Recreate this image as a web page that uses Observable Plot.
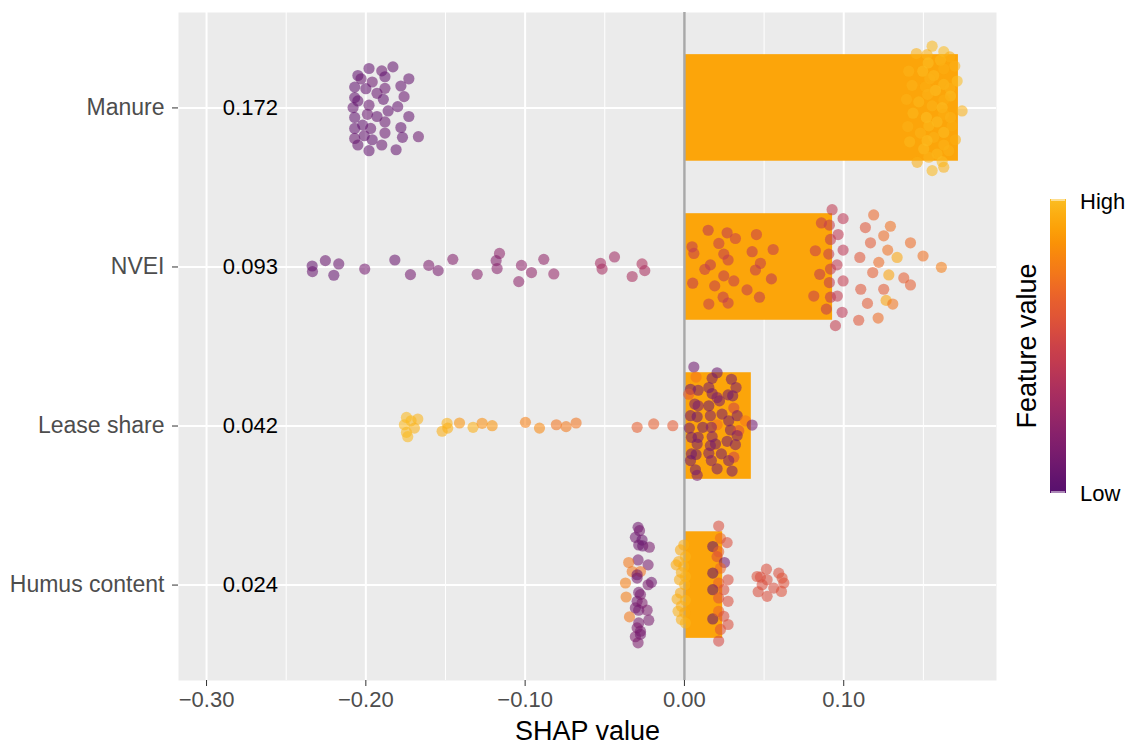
<!DOCTYPE html>
<html><head><meta charset="utf-8">
<script src="https://cdn.jsdelivr.net/npm/d3@7"></script>
<script src="https://cdn.jsdelivr.net/npm/@observablehq/plot@0.6"></script>
<style>
body{margin:0;background:#fff;font-family:"Liberation Sans",Arial,sans-serif;}
#wrap{position:relative;width:1127px;height:746px;}
</style></head><body><div id="wrap"></div>
<script>
// ---- data ----
const features = ["Manure", "NVEI", "Lease share", "Humus content"];
const meanAbsShap = [0.172, 0.093, 0.042, 0.024];
const xTicks = [-0.3, -0.2, -0.1, 0, 0.1];
const xMinorTicks = [-0.25, -0.15, -0.05, 0.05, 0.15];

const manureShap = [-0.198,-0.190,-0.183,-0.205,-0.203,-0.188,-0.196,-0.173,-0.207,-0.200,
 -0.188,-0.178,-0.207,-0.193,-0.189,-0.176,-0.205,-0.208,-0.198,-0.186,
 -0.180,-0.207,-0.199,-0.193,-0.188,-0.173,-0.207,-0.202,-0.197,-0.188,
 -0.178,-0.207,-0.201,-0.196,-0.177,-0.167,-0.205,-0.198,-0.190,-0.181,
 0.1555,0.1456,0.1628,0.1523,0.1666,0.1607,0.1530,0.1697,0.1408,0.1496,
 0.1628,0.1565,0.1540,0.1712,0.1429,0.1513,0.1628,0.1666,0.1576,0.1527,
 0.1670,0.1394,0.1471,0.1628,0.1555,0.1618,0.1743,0.1435,0.1519,0.1628,
 0.1670,0.1586,0.1402,0.1534,0.1680,0.1481,0.1628,0.1565,0.1414,0.1523,
 0.1701,0.1628,0.1502,0.1659,0.1586,0.1534,0.1461,0.1618,0.1628,0.1555];
const manureJitter = [0.248,0.233,0.258,0.204,0.183,0.196,0.163,0.183,0.131,0.121,
 0.123,0.138,0.065,0.092,0.054,0.071,0.044,0.002,0.017,-0.019,
 0.008,-0.060,-0.040,-0.054,-0.088,-0.054,-0.129,-0.108,-0.129,-0.158,
 -0.123,-0.192,-0.175,-0.200,-0.185,-0.181,-0.233,-0.269,-0.233,-0.263,
 0.388,0.342,0.354,0.335,0.321,0.300,0.283,0.263,0.231,0.231,
 0.246,0.204,0.183,0.169,0.142,0.133,0.148,0.123,0.110,0.085,
 0.075,0.054,0.038,0.050,0.013,0.002,-0.019,-0.033,-0.060,-0.040,
 -0.060,-0.088,-0.117,-0.113,-0.113,-0.158,-0.154,-0.185,-0.213,-0.206,
 -0.200,-0.233,-0.258,-0.269,-0.290,-0.310,-0.342,-0.338,-0.373,-0.394];
const manureValue = [0.05,0.08,0.06,0.04,0.07,0.05,0.09,0.06,0.04,0.05,
 0.08,0.06,0.05,0.07,0.04,0.08,0.05,0.06,0.07,0.05,
 0.06,0.04,0.08,0.05,0.07,0.06,0.05,0.04,0.06,0.08,
 0.05,0.07,0.06,0.04,0.05,0.09,0.06,0.05,0.07,0.06,
 0.98,0.96,0.99,0.97,0.95,0.98,1.00,0.96,0.97,0.99,
 0.95,0.98,0.96,0.99,0.97,0.95,0.98,0.96,1.00,0.97,
 0.99,0.96,0.98,0.95,0.97,0.99,0.96,0.98,1.00,0.95,
 0.97,0.99,0.96,0.98,0.95,0.97,0.99,0.96,0.98,1.00,
 0.95,0.97,0.99,0.96,0.98,0.97,0.95,0.99,0.96,0.98];

const nveiShap = [-0.2337,-0.2335,-0.2254,-0.2201,-0.2170,-0.2007,-0.1818,-0.1720,-0.1605,-0.1546,
 -0.1454,-0.1301,-0.1161,-0.1182,-0.1176,-0.1023,-0.1040,-0.0960,-0.0883,-0.0820,
 -0.0527,-0.0517,-0.0439,-0.0328,-0.0266,-0.0249,
 0.0048,0.0059,0.0149,0.0216,0.0268,0.0320,0.0247,0.0274,0.0163,0.0128,
 0.0052,0.0190,0.0247,0.0310,0.0452,0.0425,0.0477,0.0446,0.0557,0.0546,
 0.0393,0.0471,0.0243,0.0274,0.0153,
 0.0927,0.0996,0.0860,0.0910,0.0965,0.0917,0.0822,0.0996,0.0906,0.0958,
 0.0917,0.0849,0.0996,0.0910,0.0812,0.0917,0.0960,0.0891,0.0990,0.0948,
 0.1188,0.1136,0.1293,0.1251,0.1168,0.1419,0.1101,0.1276,0.1335,0.1220,
 0.1498,0.1613,0.1182,0.1283,0.1377,0.1419,0.1107,0.1251,0.1149,0.1266,
 0.1308,0.1094,0.1216];
const nveiJitter = [0.006,-0.029,0.040,-0.052,0.019,-0.013,0.044,-0.048,0.010,-0.023,
 0.048,-0.046,0.085,0.040,-0.010,0.010,-0.092,-0.035,0.048,-0.044,
 0.023,-0.013,0.063,-0.060,0.019,-0.023,
 0.127,0.085,0.231,0.148,0.215,0.179,0.081,0.044,0.013,-0.015,
 -0.102,-0.119,-0.056,-0.088,0.204,0.096,0.023,-0.019,0.110,-0.075,
 -0.144,-0.190,-0.190,-0.227,-0.233,
 0.360,0.304,0.277,0.263,0.204,0.173,0.102,0.106,0.081,0.013,
 -0.013,-0.046,-0.088,-0.098,-0.183,-0.190,-0.183,-0.265,-0.285,-0.369,
 0.327,0.248,0.256,0.196,0.152,0.152,0.060,0.106,0.060,0.029,
 0.069,-0.002,-0.035,-0.050,-0.069,-0.113,-0.140,-0.140,-0.229,-0.210,
 -0.233,-0.335,-0.321];
const nveiValue = [0.06,0.07,0.08,0.06,0.08,0.12,0.08,0.12,0.16,0.14,
 0.18,0.20,0.22,0.18,0.20,0.23,0.22,0.24,0.24,0.26,
 0.32,0.33,0.30,0.34,0.36,0.34,
 0.44,0.46,0.42,0.45,0.43,0.47,0.44,0.46,0.42,0.45,
 0.43,0.46,0.44,0.45,0.47,0.43,0.46,0.44,0.45,0.42,
 0.46,0.44,0.43,0.45,0.47,
 0.44,0.42,0.46,0.45,0.43,0.44,0.47,0.42,0.45,0.44,
 0.46,0.43,0.45,0.44,0.47,0.43,0.45,0.44,0.42,0.46,
 0.68,0.60,0.72,0.70,0.62,0.70,0.60,0.72,0.92,0.70,
 0.72,0.77,0.64,0.90,0.64,0.64,0.60,0.62,0.62,0.90,
 0.74,0.60,0.70];

const leaseShap = [-0.1745,-0.1716,-0.1674,-0.1758,-0.1695,-0.1745,-0.1737,-0.1521,-0.1490,-0.1486,
 -0.1412,-0.1327,-0.1270,-0.1207,-0.0998,-0.0910,-0.0804,-0.0743,-0.0680,-0.0297,
 -0.0193,-0.0073,
 0.0059,0.0205,0.0073,0.0174,0.0295,0.0324,0.0038,0.0086,0.0153,0.0174,
 0.0205,0.0274,0.0303,0.0220,0.0027,0.0065,0.0086,0.0153,0.0310,0.0331,
 0.0038,0.0080,0.0163,0.0236,0.0278,0.0383,0.0425,0.0205,0.0031,0.0115,
 0.0169,0.0289,0.0341,0.0331,0.0044,0.0086,0.0174,0.0268,0.0195,0.0080,
 0.0163,0.0320,0.0044,0.0073,0.0153,0.0232,0.0310,0.0038,0.0169,0.0278,
 0.0205,0.0069,0.0299,0.0080];
const leaseJitter = [0.054,0.033,0.044,0.008,-0.013,-0.040,-0.067,-0.033,0.017,-0.013,
 0.019,-0.008,0.017,0.002,0.023,-0.013,0.008,-0.004,0.019,-0.008,
 0.013,0.002,
 0.371,0.335,0.308,0.300,0.294,0.242,0.231,0.225,0.242,0.204,
 0.179,0.196,0.190,0.158,0.200,0.138,0.127,0.127,0.113,0.065,
 0.065,0.058,0.065,0.075,0.033,0.033,0.006,0.008,-0.013,-0.008,
 -0.008,-0.025,-0.029,-0.060,-0.071,-0.071,-0.067,-0.096,-0.113,-0.113,
 -0.123,-0.117,-0.175,-0.179,-0.171,-0.175,-0.196,-0.217,-0.217,-0.217,
 -0.269,-0.275,-0.283,-0.310];
const leaseValue = [0.98,0.98,0.97,0.98,0.96,0.98,0.98,0.95,0.96,0.95,
 0.85,0.95,0.83,0.85,0.78,0.81,0.73,0.75,0.73,0.65,
 0.65,0.63,
 0.10,0.08,0.74,0.14,0.12,0.16,0.10,0.14,0.12,0.10,
 0.16,0.12,0.10,0.14,0.62,0.12,0.16,0.10,0.52,0.14,
 0.12,0.10,0.16,0.14,0.12,0.74,0.12,0.72,0.14,0.10,
 0.16,0.12,0.57,0.14,0.10,0.12,0.16,0.14,0.10,0.12,
 0.14,0.16,0.12,0.10,0.14,0.12,0.52,0.10,0.16,0.12,
 0.14,0.10,0.12,0.16];

const humusShap = [-0.0291,-0.0282,-0.0308,-0.0266,-0.0287,-0.0262,-0.0220,-0.0291,-0.0228,-0.0350,
 -0.0328,-0.0276,-0.0297,-0.0297,-0.0370,-0.0207,-0.0228,-0.0287,-0.0366,-0.0276,
 -0.0297,-0.0266,-0.0234,-0.0308,-0.0287,-0.0345,-0.0224,-0.0287,-0.0297,-0.0276,
 -0.0308,-0.0276,-0.0291,
 -0.0004,-0.0025,0.0006,-0.0036,-0.0004,-0.0052,-0.0019,0.0006,-0.0031,0.0002,
 -0.0025,-0.0046,0.0006,-0.0019,-0.0040,0.0002,-0.0019,0.0006,
 0.0215,0.0226,0.0268,0.0178,0.0215,0.0205,0.0251,0.0226,0.0178,0.0274,
 0.0215,0.0178,0.0247,0.0215,0.0274,0.0178,0.0215,0.0247,0.0274,0.0226,
 0.0215,
 0.0515,0.0456,0.0477,0.0592,0.0613,0.0519,0.0624,0.0561,0.0463,0.0609,
 0.0519,0.0488];
const humusJitter = [0.363,0.342,0.300,0.283,0.252,0.246,0.238,0.158,0.127,0.142,
 0.085,0.085,0.065,0.044,0.013,0.017,0.002,-0.046,-0.075,-0.060,
 -0.102,-0.113,-0.158,-0.144,-0.158,-0.200,-0.221,-0.238,-0.269,-0.290,
 -0.325,-0.310,-0.363,
 0.252,0.221,0.179,0.148,0.117,0.127,0.079,0.054,0.033,0.002,
 -0.050,-0.088,-0.096,-0.133,-0.165,-0.175,-0.217,-0.238,
 0.371,0.294,0.267,0.242,0.210,0.179,0.142,0.106,0.075,0.033,
 0.013,-0.029,-0.029,-0.081,-0.102,-0.213,-0.165,-0.196,-0.248,-0.279,
 -0.352,
 0.100,0.054,0.050,0.075,0.044,0.033,0.013,-0.019,-0.042,-0.040,
 -0.071,0.002];
const humusValue = [0.10,0.12,0.10,0.08,0.10,0.08,0.14,0.12,0.14,0.75,
 0.75,0.73,0.10,0.12,0.78,0.10,0.14,0.12,0.77,0.14,
 0.12,0.16,0.16,0.14,0.12,0.75,0.14,0.14,0.16,0.14,
 0.16,0.12,0.16,
 0.95,0.93,0.97,0.94,0.96,0.93,0.95,0.97,0.94,0.96,
 0.93,0.95,0.97,0.94,0.96,0.93,0.95,0.97,
 0.57,0.70,0.57,0.05,0.67,0.57,0.12,0.68,0.05,0.57,
 0.64,0.05,0.57,0.58,0.57,0.05,0.67,0.57,0.57,0.58,
 0.54,
 0.57,0.58,0.56,0.57,0.59,0.57,0.58,0.56,0.57,0.58,
 0.57,0.56];

// ---- build tables ----
const yPos = f => features.length - features.indexOf(f); // Manure on top
const points = [];
function addPoints(feature, shap, jitter, value) {
  shap.forEach((s, i) => points.push({feature, shap: s, y: yPos(feature) + jitter[i], value: value[i]}));
}
addPoints("Manure", manureShap, manureJitter, manureValue);
addPoints("NVEI", nveiShap, nveiJitter, nveiValue);
addPoints("Lease share", leaseShap, leaseJitter, leaseValue);
addPoints("Humus content", humusShap, humusJitter, humusValue);
const bars = features.map((f, i) => ({feature: f, y: yPos(f), v: meanAbsShap[i]}));

const colorInterp = t => d3.interpolateInferno(0.25 + 0.6 * t);
const FONT = "'Liberation Sans', Arial, Helvetica, sans-serif";
const half = 0.335;

const plot = Plot.plot({
  width: 1127, height: 746,
  marginLeft: 178, marginRight: 131, marginTop: 12, marginBottom: 66,
  x: {domain: [-0.3176, 0.1959]},
  y: {domain: [0.4, 4.6]},
  color: {type: "linear", domain: [0, 1], interpolate: colorInterp},
  style: {fontFamily: FONT, background: "transparent", overflow: "visible"},
  marks: [
    Plot.frame({fill: "#EBEBEB", stroke: null}),
    Plot.ruleX(xMinorTicks, {stroke: "white", strokeWidth: 1}),
    Plot.ruleX(xTicks, {stroke: "white", strokeWidth: 2}),
    Plot.ruleY([1, 2, 3, 4], {stroke: "white", strokeWidth: 2}),
    Plot.rectX(bars, {x1: 0, x2: "v", y1: d => d.y - half, y2: d => d.y + half, fill: "#FCA50A"}),
    Plot.ruleX([0], {stroke: "#A8A8A8", strokeWidth: 2.5}),
    Plot.dot(points, {x: "shap", y: "y", r: 5.6, fill: "value", fillOpacity: 0.57}),
    Plot.text(bars, {x: -0.2725, y: "y", text: d => d3.format(".3f")(d.v), fontSize: 22, fill: "black"}),
    Plot.axisX({ticks: xTicks, tickFormat: d3.format(".2f"), tickSize: 6, tickPadding: 5, fontSize: 22, label: null, stroke: "#333", fill: "#4D4D4D"}),
    Plot.axisY({ticks: [1, 2, 3, 4], tickFormat: i => features[features.length - i], tickSize: 6, tickPadding: 8, fontSize: 23, label: null, stroke: "#333", fill: "#4D4D4D"}),
    Plot.text(["SHAP value"], {frameAnchor: "bottom", dy: 59, fontSize: 27, fill: "black"})
  ]
});
const wrap = document.getElementById("wrap");
wrap.appendChild(plot);

// ---- legend (colour bar) ----
const lg = d3.create("svg").attr("width", 131).attr("height", 746)
  .style("position", "absolute").style("left", "996px").style("top", "0px")
  .style("font-family", FONT);
const grad = lg.append("defs").append("linearGradient").attr("id", "fvgrad")
  .attr("x1", 0).attr("y1", 1).attr("x2", 0).attr("y2", 0);
d3.range(0, 1.0001, 0.05).forEach(t => grad.append("stop").attr("offset", t).attr("stop-color", colorInterp(t)));
lg.append("rect").attr("x", 54).attr("y", 199).attr("width", 16).attr("height", 294).attr("fill", "url(#fvgrad)");
[200, 492].forEach(yy => {
  lg.append("line").attr("x1", 55).attr("x2", 69).attr("y1", yy).attr("y2", yy).attr("stroke", "white").attr("stroke-width", 1);
});
lg.append("text").attr("x", 84).attr("y", 201).attr("dy", "0.35em").attr("font-size", 22).text("High");
lg.append("text").attr("x", 84).attr("y", 493).attr("dy", "0.35em").attr("font-size", 22).text("Low");
lg.append("text").attr("transform", "translate(31,346) rotate(-90)").attr("text-anchor", "middle")
  .attr("dy", "0.35em").attr("font-size", 27).text("Feature value");
wrap.appendChild(lg.node());
</script></body></html>
